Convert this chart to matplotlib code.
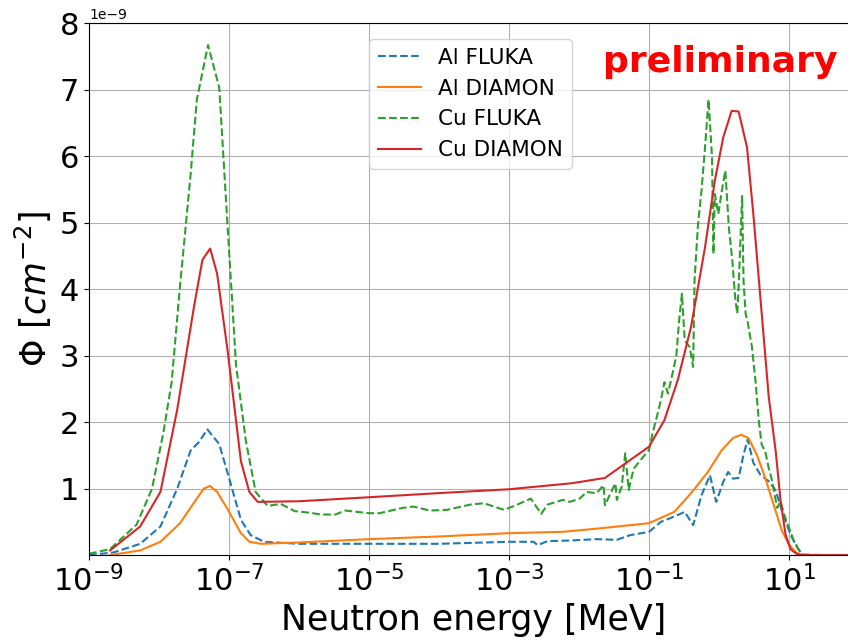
import numpy as np
import matplotlib
matplotlib.use('Agg')
import matplotlib.pyplot as plt
from matplotlib.ticker import NullLocator

# log10(E / MeV) and flux in units of 1e-9 cm^-2
al_fluka_loge = [-9.0, -8.65, -8.27, -7.98, -7.74, -7.55, -7.43, -7.31, -7.14, -7.0,
                 -6.83, -6.69, -6.50, -6.0, -5.0, -4.0, -3.0, -2.65, -2.59, -2.45,
                 -2.11, -1.75, -1.46, -1.27, -1.0, -0.83, -0.64, -0.49, -0.37, -0.25,
                 -0.13, -0.04, 0.06, 0.13, 0.20, 0.28, 0.35, 0.41, 0.49, 0.59,
                 0.71, 0.81, 0.90, 1.02, 1.12, 1.19, 1.5, 2.0]
al_fluka_phi = [0.0, 0.04, 0.17, 0.43, 1.0, 1.57, 1.70, 1.89, 1.67, 1.16,
                0.53, 0.30, 0.20, 0.17, 0.17, 0.17, 0.20, 0.20, 0.15, 0.21,
                0.22, 0.24, 0.23, 0.30, 0.35, 0.50, 0.58, 0.65, 0.45, 0.90,
                1.20, 0.80, 1.10, 1.25, 1.15, 1.16, 1.51, 1.74, 1.39, 1.21,
                1.11, 0.97, 0.66, 0.31, 0.11, 0.01, 0.0, 0.0]

al_diamon_loge = [-8.70, -8.27, -7.98, -7.70, -7.48, -7.36, -7.27, -7.17, -7.02, -6.83,
                  -6.71, -6.54, -6.0, -5.0, -4.0, -3.0, -2.23, -1.63, -1.0, -0.64,
                  -0.40, -0.16, 0.04, 0.20, 0.32, 0.42, 0.54, 0.66, 0.78, 0.90,
                  1.0, 1.10, 1.19, 2.0]
al_diamon_phi = [0.0, 0.07, 0.20, 0.48, 0.82, 1.0, 1.04, 0.95, 0.69, 0.33,
                 0.20, 0.17, 0.19, 0.24, 0.28, 0.33, 0.35, 0.41, 0.48, 0.65,
                 0.93, 1.25, 1.58, 1.76, 1.81, 1.76, 1.51, 1.16, 0.76, 0.36,
                 0.16, 0.04, 0.0, 0.0]

cu_fluka_loge = [-9.0, -8.70, -8.32, -8.10, -7.94, -7.82, -7.70, -7.55, -7.46, -7.30,
                 -7.14, -7.02, -6.90, -6.76, -6.62, -6.45, -6.26, -6.06, -5.87, -5.68,
                 -5.48, -5.34, -5.0, -4.85, -4.52, -4.37, -4.13, -3.89, -3.55, -3.36,
                 -3.07, -2.88, -2.69, -2.54, -2.45, -2.23, -2.13, -1.99, -1.89, -1.75,
                 -1.65, -1.63, -1.55, -1.48, -1.46, -1.39, -1.34, -1.29, -1.22, -1.12,
                 -1.0, -0.95, -0.90, -0.83, -0.78, -0.73, -0.66, -0.61, -0.57, -0.53,
                 -0.49, -0.42, -0.37, -0.35, -0.30, -0.25, -0.20, -0.15, -0.10, -0.08,
                 -0.06, -0.01, 0.04, 0.09, 0.14, 0.19, 0.23, 0.26, 0.28, 0.33,
                 0.35, 0.38, 0.41, 0.47, 0.52, 0.57, 0.61, 0.66, 0.71, 0.76,
                 0.83, 0.88, 0.93, 1.0, 1.07, 1.14, 1.19, 2.0]
cu_fluka_phi = [0.02, 0.09, 0.46, 1.0, 1.83, 2.60, 4.05, 5.71, 6.85, 7.67,
                7.03, 4.93, 2.86, 1.72, 0.95, 0.74, 0.77, 0.66, 0.64, 0.61,
                0.61, 0.67, 0.63, 0.63, 0.71, 0.73, 0.67, 0.68, 0.76, 0.78,
                0.68, 0.76, 0.85, 0.62, 0.76, 0.83, 0.80, 0.85, 0.95, 0.93,
                1.05, 0.75, 0.93, 1.08, 0.83, 1.03, 1.53, 0.98, 1.30, 1.43,
                1.58, 1.83, 2.03, 2.33, 2.60, 2.43, 2.75, 3.0, 3.53, 3.93,
                3.23, 3.13, 2.83, 4.13, 4.98, 5.48, 6.13, 6.85, 5.98, 4.53,
                5.43, 5.13, 5.48, 5.78, 4.93, 4.43, 3.88, 3.63, 4.03, 5.40,
                4.13, 3.63, 3.50, 3.13, 2.63, 2.0, 1.66, 1.56, 1.31, 1.11,
                0.71, 0.81, 0.61, 0.41, 0.21, 0.08, 0.0, 0.0]

cu_diamon_loge = [-8.70, -8.27, -7.98, -7.74, -7.50, -7.38, -7.27, -7.17, -7.02, -6.83,
                  -6.71, -6.59, -6.0, -5.0, -4.04, -3.0, -2.11, -1.63, -1.27, -1.0,
                  -0.78, -0.59, -0.40, -0.20, -0.06, 0.06, 0.18, 0.28, 0.40, 0.49,
                  0.61, 0.71, 0.81, 0.88, 0.95, 1.02, 1.12, 1.19, 2.0]
cu_diamon_phi = [0.07, 0.43, 0.95, 2.19, 3.74, 4.44, 4.61, 4.23, 3.07, 1.41,
                 0.95, 0.80, 0.81, 0.87, 0.93, 0.99, 1.08, 1.16, 1.43, 1.63,
                 2.03, 2.63, 3.43, 4.63, 5.63, 6.28, 6.68, 6.67, 6.13, 5.13,
                 3.63, 2.38, 1.56, 0.81, 0.31, 0.09, 0.01, 0.0, 0.0]

x_ticks = [1e-9, 1e-7, 1e-5, 1e-3, 1e-1, 1e1]
y_ticks = [1, 2, 3, 4, 5, 6, 7, 8]

fig = plt.figure(figsize=(8.48, 6.41), dpi=100)
# right spine falls just outside the picture, as in the cropped original
ax = fig.add_axes([0.105, 0.134, 0.908, 0.830])

series = [
    (al_fluka_loge, al_fluka_phi, 'tab:blue', '--', 'Al FLUKA'),
    (al_diamon_loge, al_diamon_phi, 'tab:orange', '-', 'Al DIAMON'),
    (cu_fluka_loge, cu_fluka_phi, 'tab:green', '--', 'Cu FLUKA'),
    (cu_diamon_loge, cu_diamon_phi, 'tab:red', '-', 'Cu DIAMON'),
]
for loge, phi, col, ls, lab in series:
    ax.plot(10 ** np.array(loge), np.array(phi) * 1e-9, color=col, linestyle=ls,
            linewidth=1.5, label=lab)

ax.set_xscale('log')
ax.set_xlim(1e-9, 1e2)
ax.set_ylim(0, 8e-9)
ax.set_xticks(x_ticks)
ax.xaxis.set_minor_locator(NullLocator())
ax.set_yticks([v * 1e-9 for v in y_ticks])
ax.tick_params(labelsize=22)
ax.yaxis.get_offset_text().set_fontsize(10)
ax.grid(True)

ax.set_xlabel('Neutron energy [MeV]', fontsize=25)
ax.set_ylabel(r'$\Phi\ [cm^{-2}]$', fontsize=25)

ax.legend(loc='upper left', bbox_to_anchor=(0.35, 0.99), fontsize=15.5)

fig.text(0.849, 0.888, 'preliminary', color='red', fontsize=26,
         fontweight='bold', ha='center', va='baseline')

fig.savefig('out.png', dpi=100)
